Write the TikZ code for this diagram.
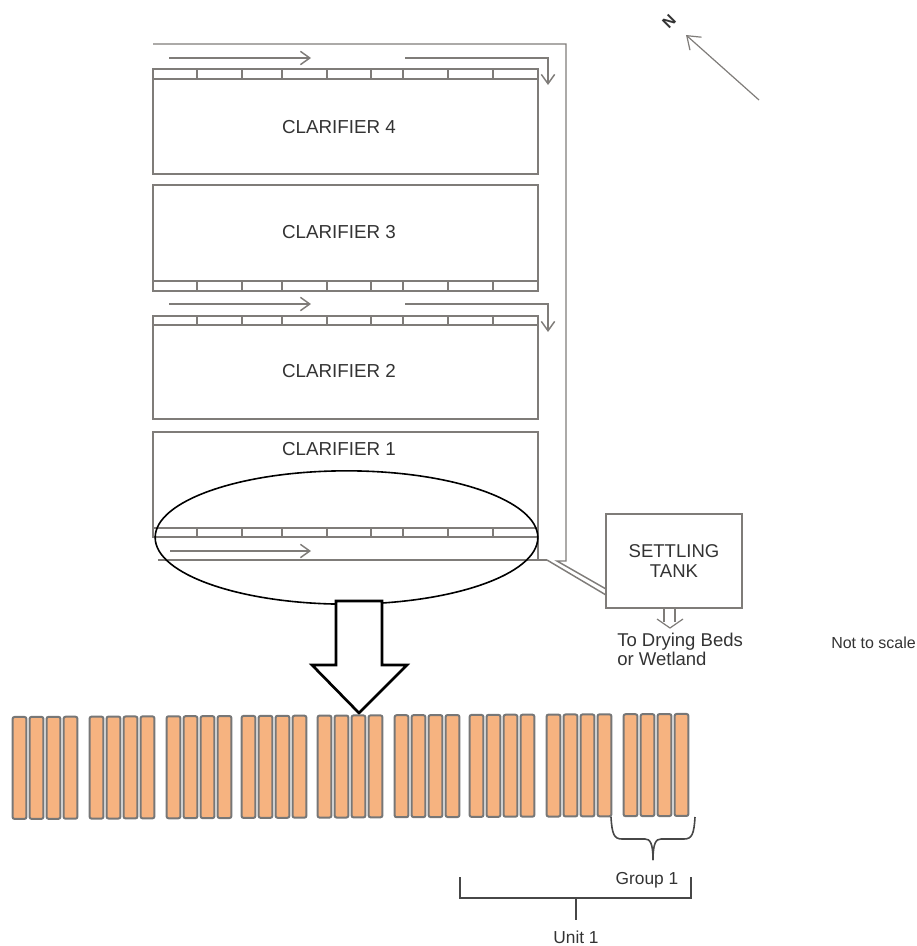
\documentclass[tikz,border=0pt]{standalone}
\usepackage{fontspec}
\setmainfont{Liberation Sans}
\usepackage{xcolor}
\usetikzlibrary{arrows.meta,positioning,shapes.geometric}
\definecolor{pipegray}{HTML}{7F7C79}
\definecolor{textgray}{HTML}{333333}
\definecolor{barfill}{HTML}{F6B380}
\definecolor{baredge}{HTML}{777777}
\tikzset{
  pipe/.style={draw=pipegray, line width=1.1pt},
  flowarrow/.style={pipe, -{Straight Barb[length=7pt, width=10pt]}},
  clarbox/.style={draw=pipegray, line width=1.1pt, minimum width=288.75pt, inner sep=0pt, outer sep=0pt},
  tankbox/.style={draw=pipegray, line width=1.1pt, minimum width=102pt, minimum height=70.5pt, align=center,
    inner sep=0pt, outer sep=0pt, text=textgray, font=\fontsize{13.9pt}{15pt}\selectfont},
  clartext/.style={text=textgray, inner sep=0pt, font=\fontsize{14.1pt}{15pt}\selectfont},
  smalltext/.style={text=textgray, inner sep=0pt, font=\fontsize{13pt}{15pt}\selectfont},
  notetext/.style={text=textgray, inner sep=0pt, font=\fontsize{12pt}{15pt}\selectfont},
  bar/.style={draw=baredge, line width=1.5pt, fill=barfill, rounded corners=1.5pt, inner sep=0pt,
    minimum width=10.4pt, minimum height=76.5pt},
  bracket/.style={draw=black!72, line width=1.2pt},
  bigarrow/.style={draw=black, line width=2pt, fill=white, line join=miter}
}
\begin{document}
\begin{tikzpicture}[x=0.75pt, y=-0.75pt]
  \useasboundingbox (0,0) rectangle (917,946);

  \node[clarbox, minimum height=78.75pt] (c4) at (345.5,121.5) {};
  \node[clarbox, minimum height=79.5pt, below=8.25pt of c4] (c3) {};
  \node[clarbox, minimum height=77.25pt, below=18.75pt of c3] (c2) {};
  \node[clartext] (t4) at (339,127) {CLARIFIER 4};
  \node[clartext] (t3) at (339,232) {CLARIFIER 3};
  \node[clartext] (t2) at (339,371) {CLARIFIER 2};
  \node[clartext] (t1) at (339,449) {CLARIFIER 1};

  % clarifier 1 is open at the lower left
  \coordinate (c1a) at (153,537);
  \coordinate (c1b) at (153,432);
  \coordinate (c1c) at (538,432);
  \coordinate (c1d) at (538,560);
  \coordinate (c1e) at (158,560);
  \coordinate (c1f) at (547,560);
  \draw[pipe] (c1a) -- (c1b) -- (c1c) -- (c1d);
  \draw[pipe] (c1e) -- (c1f);

  % launder strips
  \foreach \ya/\yb in {69/79,281/291,316/325,528/537} {
    \draw[pipe] (153,\ya) rectangle (538,\yb);
    \foreach \xa in {197,242,282,327,371,403,448,493}
      \draw[pipe] (\xa,\ya) -- (\xa,\yb);
  }

  % flow arrows
  \foreach \n/\ya/\yb in {a/58/85,b/304/332} {
    \coordinate (s\n) at (169,\ya);
    \coordinate (e\n) at (311,\ya);
    \coordinate (f\n) at (405,\ya);
    \coordinate (g\n) at (548,\ya);
    \coordinate (h\n) at (548,\yb);
    \draw[flowarrow] (s\n) -- (e\n);
    \draw[flowarrow] (f\n) -- (g\n) -- (h\n);
  }
  \coordinate (sc) at (170,551);
  \coordinate (ec) at (311,551);
  \draw[flowarrow] (sc) -- (ec);

  % settling tank and pipe
  \node[tankbox] (tank) at (674,561) {SETTLING\\[0pt]TANK};
  \coordinate (p1) at (153,44);
  \coordinate (p2) at (566,44);
  \coordinate (p3) at (566,561);
  \coordinate (p4) at (557,561);
  \coordinate (p5) at (606,589);
  \coordinate (p6) at (606,595);
  \draw[pipe] (p1) -- (p2) -- (p3) -- (p4) -- (p5);
  \draw[pipe] (c1f) -- (p6);

  % outlet of the tank
  \coordinate (o1) at (664,608);
  \coordinate (o2) at (664,622);
  \coordinate (o3) at (675,608);
  \coordinate (o4) at (675,622);
  \coordinate (o5) at (657,619);
  \coordinate (o6) at (670,628);
  \coordinate (o7) at (683,619);
  \draw[pipe, line width=0.9pt] (o1) -- (o2);
  \draw[pipe, line width=0.9pt] (o3) -- (o4);
  \draw[pipe, line width=0.9pt] (o5) -- (o6) -- (o7);
  \node[smalltext, font=\fontsize{13.9pt}{14.25pt}\selectfont, align=left, anchor=north west] (dry) at (617,633) {To Drying Beds\\or Wetland};
  \node[notetext, anchor=west] (scale) at (831,643) {Not to scale};

  % north arrow
  \coordinate (na) at (759,100);
  \coordinate (nb) at (686,35);
  \draw[pipe, line width=0.9pt, -{Straight Barb[length=9pt, width=13pt]}] (na) -- (nb);
  \node[clartext, rotate=45, font=\bfseries\fontsize{12pt}{13pt}\selectfont] (north) at (669,22) {N};

  % zoom ellipse and arrow
  \node[draw=black, line width=1.2pt, ellipse, minimum width=287pt, minimum height=100pt, inner sep=0pt] (zoom) at (346.5,537.5) {};
  \draw[bigarrow] (336,601) -- (382,601) -- (382,665) -- (407,665) -- (359,713) -- (312,665) -- (336,665) -- cycle;

  % bars, slightly tilted
  \foreach \g/\xa in {1/12,2/89,3/166,4/241,5/317,6/394,7/469,8/546,9/623}
    \foreach \i in {0,1,2,3}
      \node[bar] (bar-\g-\i) at ({\xa+7.5+\i*17},{768-(\xa+\i*17)*0.0045}) {};

  % group brace
  \coordinate (b1) at (611,817);
  \coordinate (b2) at (622,839);
  \coordinate (b3) at (645,839);
  \coordinate (b4) at (653,860);
  \coordinate (b5) at (661,839);
  \coordinate (b6) at (684,839);
  \coordinate (b7) at (695,817);
  \draw[bracket] (b1) .. controls (612,834) and (614,839) .. (b2) -- (b3) .. controls (650,839) and (653,843) .. (b4);
  \draw[bracket] (b7) .. controls (694,834) and (692,839) .. (b6) -- (b5) .. controls (656,839) and (653,843) .. (b4);
  \node[smalltext, below=9pt of b4, xshift=-4.5pt, anchor=north] (group) {Group 1};

  % unit bracket
  \coordinate (u1) at (460,877);
  \coordinate (u2) at (460,898);
  \coordinate (u3) at (691,898);
  \coordinate (u4) at (691,877);
  \coordinate (u5) at (576,898);
  \coordinate (u6) at (576,920);
  \draw[bracket] (u1) -- (u2) -- (u3) -- (u4);
  \draw[bracket] (u5) -- (u6);
  \node[smalltext, below=8pt of u6] (unit) {Unit 1};
\end{tikzpicture}
\end{document}
